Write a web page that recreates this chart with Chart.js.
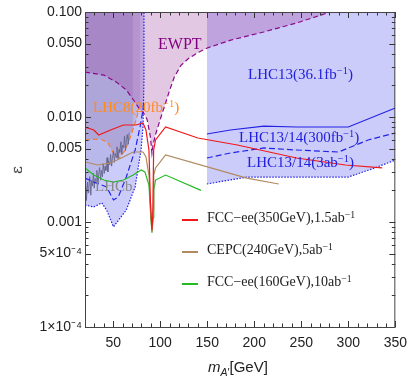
<!DOCTYPE html>
<html>
<head>
<meta charset="utf-8">
<script src="https://cdn.jsdelivr.net/npm/chart.js@4.4.1/dist/chart.umd.min.js"></script>
<style>
  body { margin: 0; background: #fff; }
  #wrap { position: relative; width: 415px; height: 380px; }
  #wrap canvas { position: absolute; left: 0; top: 0; }
  .lbl { position: absolute; font-family: "Liberation Serif", "DejaVu Serif", serif; font-size: 14px; white-space: nowrap; line-height: 1; }
  .lbl sup { font-size: 70%; vertical-align: 0.45em; line-height: 0; }
  .leg { position: absolute; left: 182px; font-family: "Liberation Serif", serif; font-size: 14px; white-space: nowrap; line-height: 1; }
  .leg span.ln { position: absolute; left: 0; width: 16px; top: 0; height: 1.5px; }
  .leg span.tx { position: absolute; left: 25px; top: -8px; color: #222; }
  .leg sup { font-size: 70%; vertical-align: 0.45em; line-height: 0; }
  .ax { position: absolute; font-family: "Liberation Sans", Arial, sans-serif; font-size: 15px; color: #222; white-space: nowrap; }
</style>
</head>
<body>
<div id="wrap">
  <canvas id="c" width="415" height="380"></canvas>
  <div class="lbl" style="left:158px;top:36px;color:#800080;font-size:16px">EWPT</div>
  <div class="lbl" style="left:93px;top:100px;color:#ff8a1e;font-size:15px">LHC8(20fb<sup>−1</sup>)</div>
  <div class="lbl" style="left:248px;top:67px;color:#2020dd;font-size:15px">LHC13(36.1fb<sup>−1</sup>)</div>
  <div class="lbl" style="left:239px;top:130px;color:#2020dd;font-size:15px">LHC13/14(300fb<sup>−1</sup>)</div>
  <div class="lbl" style="left:247px;top:155px;color:#2020dd;font-size:15px">LHC13/14(3ab<sup>−1</sup>)</div>
  <div class="lbl" style="left:95px;top:179px;color:#888;font-size:15px">LHCb</div>
  <div class="leg" style="top:219px"><span class="ln" style="background:#f01818"></span><span class="tx">FCC−ee(350GeV),1.5ab<sup>−1</sup></span></div>
  <div class="leg" style="top:251px"><span class="ln" style="background:#b08a60"></span><span class="tx">CEPC(240GeV),5ab<sup>−1</sup></span></div>
  <div class="leg" style="top:283px"><span class="ln" style="background:#22bb22"></span><span class="tx">FCC−ee(160GeV),10ab<sup>−1</sup></span></div>
  <div class="ax" style="left:13px;top:161px;transform:rotate(-90deg);font-family:'DejaVu Serif',serif">ε</div>
  <div class="ax" style="left:208px;top:358px"><i>m</i><sub style="font-size:70%"><i>A</i>′</sub>[GeV]</div>
</div>
<script>
// axes
const X_MIN = 20, X_MAX = 350;
const Y_MIN = 1e-4, Y_MAX = 0.1;
const xTickVals = [50, 100, 150, 200, 250, 300, 350];
const yTickVals = [1e-4, 5e-4, 1e-3, 5e-3, 1e-2, 5e-2, 0.1];
const yTickLabels = ['1×10⁻⁴', '5×10⁻⁴', '0.001', '0.005', '0.010', '0.050', '0.100'];

// EWPT bound (purple dashed, excluded above)
const ewptX = [20, 40, 53, 64, 73, 78.5, 82, 86, 89.5, 91.2, 92.5, 95, 100, 105, 110, 115, 122, 130, 140, 150, 175, 210, 245, 281, 350];
const ewptY = [0.0268, 0.0251, 0.0216, 0.0181, 0.0139, 0.0117, 0.011, 0.0095, 0.0065, 0.0045, 0.0055, 0.0068, 0.0095, 0.013, 0.018, 0.024, 0.031, 0.036, 0.041, 0.0454, 0.054, 0.0645, 0.0786, 0.1, 0.16];

// LHC8 20fb-1 (orange dashed)
const lhc8X = [20, 35.7, 44, 51.3, 56.6, 62.8, 69.1, 74.3, 78.5];
const lhc8Y = [0.00604, 0.00617, 0.00578, 0.00435, 0.00407, 0.00485, 0.00674, 0.00936, 0.013];

// LHCb (grey, noisy)
const lhcbX = [20, 20.8, 21.5, 22.6, 23.3, 24.1, 25, 26.2, 27, 27.9, 29, 29.8, 30.7, 31.9, 32.6, 33.8, 34.6, 35.5, 36.7, 37.4, 38.6, 39.3, 40.5, 41.4, 42.2, 43.5, 44.3, 45.1, 46.4, 47.2, 48.3, 49.1, 50.2, 51.3, 52.1, 53.2, 54, 55.1, 56.3, 57, 58.2, 59.1, 60, 61.2, 62, 63.1, 64, 65, 66, 67];
const lhcbY = [0.0018, 0.0022, 0.0016, 0.0024, 0.0019, 0.0021, 0.0027, 0.0018, 0.0025, 0.0022, 0.0029, 0.0021, 0.0026, 0.0024, 0.0031, 0.0023, 0.0028, 0.0033, 0.0025, 0.0031, 0.0027, 0.0036, 0.0029, 0.0034, 0.0031, 0.0041, 0.003, 0.0038, 0.0035, 0.0044, 0.0034, 0.0040, 0.0047, 0.0037, 0.0045, 0.0041, 0.0052, 0.0040, 0.0049, 0.0046, 0.0058, 0.0044, 0.0054, 0.0051, 0.0066, 0.0048, 0.0061, 0.0068, 0.0055, 0.0071];

// low-mass LHC projections (blue dotted / dashed)
const lowDotX = [20, 29.4, 37.8, 43, 50.3, 63.9, 73.3, 79.6, 81.7, 82.7, 82.7];
const lowDotY = [0.00145, 0.00139, 0.00152, 0.0013, 0.0009, 0.0013, 0.00216, 0.00485, 0.00803, 0.0225, 0.1];
const lowDashX = [20, 29.4, 43, 50.3, 55.5, 63.9, 73.3, 78.5, 81.7, 82.5];
const lowDashY = [0.00262, 0.0024, 0.00216, 0.00162, 0.00174, 0.00268, 0.00485, 0.00803, 0.0117, 0.014];

// LHC13 36.1fb-1 (solid), 300fb-1 (dashed), 3ab-1 (dotted)
const lhc13X = [149.6, 174.7, 210.2, 244.7, 300, 350];
const lhc13Y = [0.00689, 0.00752, 0.0082, 0.00803, 0.00803, 0.0122];
const hl300X = [149.6, 174.7, 210.2, 244.7, 289.6, 321, 350];
const hl300Y = [0.00407, 0.00454, 0.00507, 0.00485, 0.00464, 0.00604, 0.00704];
const hl3abX = [149.6, 192, 244.7, 300, 328, 350];
const hl3abY = [0.0023, 0.00268, 0.00268, 0.00268, 0.00327, 0.00389];

// e+e- projections
const fcc350X = [20, 29.4, 34.6, 47.2, 60.8, 74.3, 81.7, 84.8, 88, 89.5, 90.5, 91.2, 92, 93, 95, 105.7, 140, 182, 245, 297, 336];
const fcc350Y = [0.00803, 0.00752, 0.00674, 0.00752, 0.00839, 0.00839, 0.00877, 0.00752, 0.00485, 0.00162, 0.0011, 0.00084, 0.0011, 0.00485, 0.00604, 0.00803, 0.00631, 0.00541, 0.00407, 0.00349, 0.00327];
const cepcX = [20, 33.6, 47.2, 60.8, 71.2, 81.7, 84.8, 88, 89.8, 91.2, 92.6, 93.1, 95, 105.7, 192, 226];
const cepcY = [0.00373, 0.00349, 0.00365, 0.00416, 0.00464, 0.00464, 0.00416, 0.0028, 0.0013, 0.0008, 0.0013, 0.0028, 0.00327, 0.00435, 0.00262, 0.0023];
const fcc160X = [20, 29.4, 39.9, 50.3, 60.8, 71.2, 79.6, 83.7, 88, 90, 91.2, 92.4, 93.1, 95, 105.7, 143.3];
const fcc160Y = [0.00327, 0.0028, 0.00251, 0.0024, 0.00251, 0.0028, 0.00313, 0.003, 0.00225, 0.0011, 0.00079, 0.0011, 0.002, 0.00251, 0.0028, 0.002];

const pts = (xs, ys) => xs.map((x, i) => ({x, y: ys[i]}));

function line(xs, ys, color, opts) {
  return Object.assign({
    data: pts(xs, ys), borderColor: color, borderWidth: 1.2,
    pointRadius: 0, fill: false, tension: 0,
  }, opts || {});
}

const yMinor = [];
for (let d = 1e-4; d < 0.099; d *= 10) for (let k = 1; k <= 9; k++) yMinor.push(k * d);
yMinor.push(0.1);
const xMinor = [];
for (let v = 20; v <= 350; v += 10) xMinor.push(v);

const frameTicks = {
  id: 'frameTicks',
  afterDatasetsDraw(chart) {
    const {ctx, chartArea: a, scales: {x, y}} = chart;
    ctx.save();
    ctx.strokeStyle = '#333';
    ctx.lineWidth = 1;
    ctx.beginPath();
    for (const v of yMinor) {
      const py = Math.round(y.getPixelForValue(v)) + 0.5;
      const major = yTickVals.some(t => Math.abs(t - v) / t < 1e-6);
      const len = major ? 6 : 3.5;
      ctx.moveTo(a.left, py); ctx.lineTo(a.left + len, py);
      ctx.moveTo(a.right, py); ctx.lineTo(a.right - len, py);
    }
    for (const v of xMinor) {
      const px = Math.round(x.getPixelForValue(v)) + 0.5;
      const len = v % 50 === 0 ? 6 : 3.5;
      ctx.moveTo(px, a.bottom); ctx.lineTo(px, a.bottom - len);
      ctx.moveTo(px, a.top); ctx.lineTo(px, a.top + len);
    }
    ctx.stroke();
    ctx.strokeStyle = '#444';
    ctx.strokeRect(a.left + 0.5, a.top + 0.5, a.right - a.left - 1, a.bottom - a.top);
    ctx.restore();
  }
};

const BLUE = 'rgb(35,35,230)';
const datasets = [
  line(fcc350X, fcc350Y, '#f01818'),
  line(cepcX, cepcY, '#b08a60'),
  line(fcc160X, fcc160Y, '#22bb22'),
  line(ewptX, ewptY, '#8a0a8a', {borderDash: [5, 3], fill: 'end', backgroundColor: 'rgba(150,50,150,0.27)'}),
  line(lhc13X, lhc13Y, BLUE),
  line(hl300X, hl300Y, BLUE, {borderDash: [6, 3]}),
  line(hl3abX, hl3abY, BLUE, {borderDash: [1.5, 1.5], fill: 'end', backgroundColor: 'rgba(100,100,240,0.33)'}),
  line(lowDashX, lowDashY, BLUE, {borderDash: [6, 3]}),
  line(lowDotX, lowDotY, BLUE, {borderDash: [1.5, 1.5], fill: 'end', backgroundColor: 'rgba(100,100,240,0.33)'}),
  line(lhcbX, lhcbY, 'rgb(100,100,140)', {borderWidth: 0.9}),
  // LHCb excluded area, closed up to the top at 71 GeV
  line(lhcbX.concat([71, 71]), lhcbY.concat([0.0072, 0.1]), 'rgba(0,0,0,0)', {borderWidth: 0, fill: 'end', backgroundColor: 'rgba(80,70,110,0.16)'}),
  line(lhc8X, lhc8Y, '#f08030', {borderDash: [5, 3]}),
  line(lhc8X.concat([78.5]), lhc8Y.concat([0.1]), 'rgba(0,0,0,0)', {borderWidth: 0, fill: 'end', backgroundColor: 'rgba(180,130,130,0.25)'}),
];

new Chart(document.getElementById('c'), {
  type: 'line',
  data: {datasets},
  plugins: [frameTicks],
  options: {
    responsive: false,
    animation: false,
    devicePixelRatio: 1,
    layout: {padding: {top: 12, right: 14, left: 0, bottom: 0}},
    plugins: {legend: {display: false}, tooltip: {enabled: false}, filler: {drawTime: 'beforeDatasetsDraw'}},
    scales: {
      x: {
        type: 'linear', min: X_MIN, max: X_MAX,
        grid: {display: false, drawTicks: false},
        border: {display: false},
        afterBuildTicks: s => { s.ticks = xTickVals.map(v => ({value: v})); },
        afterFit: s => { s.height = 53; },
        ticks: {padding: 8, maxRotation: 0, color: '#222', font: {family: 'Liberation Sans', size: 14}, callback: v => String(v)},
      },
      y: {
        type: 'logarithmic', min: Y_MIN, max: Y_MAX,
        grid: {display: false, drawTicks: false},
        border: {display: false},
        afterBuildTicks: s => { s.ticks = yTickVals.map(v => ({value: v})); },
        afterFit: s => { s.width = 85; },
        ticks: {padding: 3, color: '#222', font: {family: 'Liberation Sans', size: 14},
          callback: v => { const i = yTickVals.indexOf(v); return i >= 0 ? yTickLabels[i] : ''; }},
      },
    },
  },
});
</script>
</body>
</html>
